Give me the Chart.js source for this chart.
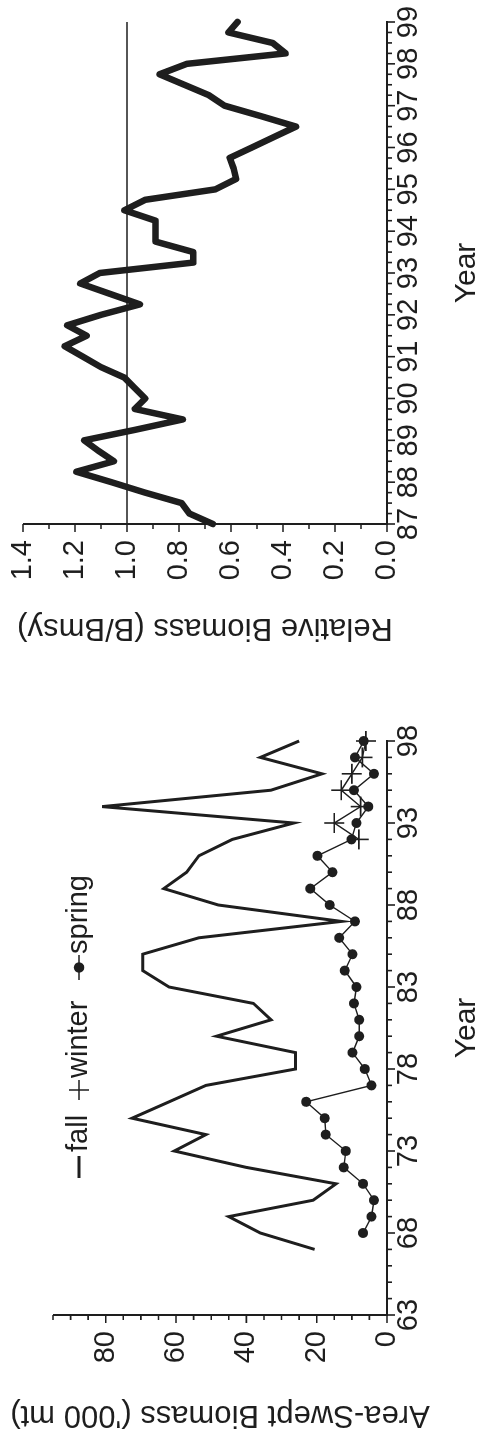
<!DOCTYPE html>
<html>
<head>
<meta charset="utf-8">
<script src="https://cdn.jsdelivr.net/npm/chart.js"></script>
<style>
  html, body { margin: 0; padding: 0; background: #fff; overflow: hidden; }
  /* the figure is a landscape page turned a quarter turn to the left */
  #page {
    position: absolute; left: 0; top: 0; width: 1442px; height: 487px;
    transform-origin: 0 0; transform: translate(0px, 1442px) rotate(-90deg);
  }
  #survey { position: absolute; left: 0; top: 0; }
  #relative { position: absolute; left: 740px; top: 0; }
</style>
</head>
<body>
<div id="page">
  <canvas id="survey" width="740" height="487"></canvas>
  <canvas id="relative" width="702" height="487"></canvas>
</div>
<script>
// Area-swept biomass ('000 mt) by survey season
const fallYears = [67, 68, 69, 70, 71, 72, 73, 74, 75, 76, 77, 78, 79, 80, 81, 82,
  83, 84, 85, 86, 87, 88, 89, 90, 91, 92, 93, 94, 95, 96, 97, 98];
const fallBiomass = [20.6, 36, 45, 21, 14.5, 40, 60.5, 51.5, 72.5, 62, 51.5, 26, 26, 48.5, 33, 38,
  62, 69.5, 69.5, 53.5, 13, 48, 63.5, 57, 53.5, 44, 26.5, 81, 33, 18.5, 36, 25];

const springYears = [68, 69, 70, 71, 72, 73, 74, 75, 76, 77, 78, 79, 80, 81, 82, 83,
  84, 85, 86, 87, 88, 89, 90, 91, 92, 93, 94, 95, 96, 97, 98];
const springBiomass = [6.8, 4.4, 3.7, 6.8, 12.3, 11.7, 17.4, 17.7, 23, 4.4, 6.3, 9.8, 7.9, 7.9, 9.4, 8.7,
  12, 9.8, 13.6, 9.1, 16.3, 21.8, 15.5, 19.8, 10.1, 8.7, 5.3, 9.4, 3.7, 9.1, 6.6];

const winterYears = [92, 93, 94, 95, 96, 97, 98];
const winterBiomass = [8, 15, 7.5, 13, 10, 7, 6];

// Relative biomass (B/Bmsy), quarterly
const quarterTimes = [87, 87.25, 87.5, 87.75, 88, 88.25, 88.5, 88.75, 89, 89.25, 89.5, 89.75,
  90, 90.25, 90.5, 90.75, 91, 91.25, 91.5, 91.75, 92, 92.25, 92.5, 92.75,
  93, 93.25, 93.5, 93.75, 94, 94.25, 94.5, 94.75, 95, 95.25, 95.5, 95.75,
  96, 96.25, 96.5, 96.75, 97, 97.25, 97.5, 97.75, 98, 98.25, 98.5, 98.75, 99];
const relBiomass = [0.67, 0.76, 0.79, 0.93, 1.06, 1.195, 1.05, 1.11, 1.165, 0.97, 0.785, 0.97,
  0.93, 0.97, 1.01, 1.10, 1.17, 1.24, 1.155, 1.23, 1.10, 0.95, 1.065, 1.18,
  1.105, 0.745, 0.745, 0.89, 0.89, 0.89, 1.01, 0.93, 0.66, 0.58, 0.59, 0.605,
  0.52, 0.435, 0.35, 0.485, 0.625, 0.685, 0.78, 0.875, 0.77, 0.39, 0.44, 0.61, 0.575];
const bmsyLevel = 1.0;

// tick labels
const surveyYearLabels = [63, 68, 73, 78, 83, 88, 93, 98];
const surveyBiomassLabels = [0, 20, 40, 60, 80];
const relYearLabels = [87, 88, 89, 90, 91, 92, 93, 94, 95, 96, 97, 98, 99];
const relBiomassLabels = ["0.0", "0.2", "0.4", "0.6", "0.8", "1.0", "1.2", "1.4"];

const INK = "#1e1e1e";
Chart.defaults.font.family = "'Liberation Sans', Arial, Helvetica, sans-serif";
Chart.defaults.color = INK;

function points(xs, ys) {
  return xs.map((x, i) => ({ x: x, y: ys[i] }));
}

function near(a, b) {
  return Math.abs(a - b) < 1e-6;
}

function fixWidth(w) {
  return function (scale) {
    scale.width = w;
    scale.paddingTop = 0;
    scale.paddingBottom = 0;
  };
}

function fixHeight(h) {
  return function (scale) {
    scale.height = h;
    scale.paddingLeft = 0;
    scale.paddingRight = 0;
  };
}

// axis lines and tick marks, long ones where a label sits
const axisLines = {
  id: "axisLines",
  afterDraw(chart) {
    const ctx = chart.ctx;
    const a = chart.chartArea;
    const xs = chart.scales.x;
    const ys = chart.scales.y;
    ctx.save();
    ctx.strokeStyle = INK;
    ctx.lineWidth = 2;
    ctx.beginPath();
    ctx.moveTo(a.left, a.top);
    ctx.lineTo(a.left, a.bottom);
    ctx.lineTo(a.right + 1, a.bottom);
    ctx.stroke();
    ctx.lineWidth = 1.6;
    ctx.beginPath();
    xs.ticks.forEach((t) => {
      const px = xs.getPixelForValue(t.value);
      const len = t.label !== "" ? 8 : 5;
      ctx.moveTo(px, a.bottom);
      ctx.lineTo(px, a.bottom + len);
    });
    ys.ticks.forEach((t) => {
      const py = ys.getPixelForValue(t.value);
      const len = t.label !== "" ? 8 : 5;
      ctx.moveTo(a.left, py);
      ctx.lineTo(a.left - len, py);
    });
    ctx.stroke();
    ctx.restore();
  },
};

// season key inside the survey panel
const seasonKey = {
  id: "seasonKey",
  afterDraw(chart) {
    const ctx = chart.ctx;
    const y = 79;
    ctx.save();
    ctx.strokeStyle = INK;
    ctx.fillStyle = INK;
    ctx.font = "29px 'Liberation Sans', Arial, sans-serif";
    ctx.textBaseline = "middle";

    ctx.lineWidth = 3;
    ctx.beginPath();
    ctx.moveTo(264, y);
    ctx.lineTo(286, y);
    ctx.stroke();
    ctx.fillText("fall", 290, y);

    ctx.lineWidth = 1.5;
    ctx.beginPath();
    ctx.moveTo(342, y);
    ctx.lineTo(362, y);
    ctx.moveTo(352, y - 10);
    ctx.lineTo(352, y + 10);
    ctx.stroke();
    ctx.fillText("winter", 364, y);

    ctx.beginPath();
    ctx.moveTo(462, y);
    ctx.lineTo(487, y);
    ctx.stroke();
    ctx.beginPath();
    ctx.arc(474.5, y, 5.2, 0, Math.PI * 2);
    ctx.fill();
    ctx.fillText("spring", 488, y);
    ctx.restore();
  },
};

function axisFont(size) {
  return { size: size, family: "'Liberation Sans', Arial, sans-serif" };
}

function survey_chart() {
  const ctx = document.querySelector("#survey").getContext("2d");

  new Chart(ctx, {
    type: "line",
    data: {
      datasets: [
        {
          label: "fall",
          data: points(fallYears, fallBiomass),
          borderColor: INK,
          borderWidth: 3,
          pointRadius: 0,
          borderJoinStyle: "miter",
          clip: false,
        },
        {
          label: "winter",
          data: points(winterYears, winterBiomass),
          borderColor: INK,
          borderWidth: 1.4,
          pointStyle: "cross",
          pointRadius: 10,
          pointBorderWidth: 1.6,
          pointBorderColor: INK,
          clip: false,
        },
        {
          label: "spring",
          data: points(springYears, springBiomass),
          borderColor: INK,
          borderWidth: 1.4,
          pointStyle: "circle",
          pointRadius: 5,
          pointBorderWidth: 0,
          pointBackgroundColor: INK,
          clip: false,
        },
      ],
    },
    options: {
      responsive: false,
      animation: false,
      devicePixelRatio: 1,
      layout: { padding: { left: 0, top: 53, right: 39, bottom: 0 } },
      plugins: { legend: { display: false }, tooltip: { enabled: false } },
      scales: {
        x: {
          type: "linear",
          min: 63,
          max: 98,
          grid: { display: false, drawTicks: false },
          border: { display: false },
          ticks: {
            stepSize: 1,
            autoSkip: false,
            maxRotation: 0,
            minRotation: 0,
            padding: 5,
            font: axisFont(29),
            callback: (v) => (surveyYearLabels.some((l) => near(l, v)) ? String(v) : ""),
          },
          title: { display: true, text: "Year", font: axisFont(30), padding: { top: 0, bottom: 2 } },
          afterFit: fixHeight(100),
        },
        y: {
          type: "linear",
          min: 0,
          max: 95,
          grid: { display: false, drawTicks: false },
          border: { display: false },
          ticks: {
            stepSize: 5,
            autoSkip: false,
            padding: 16,
            font: axisFont(29),
            callback: (v) => (surveyBiomassLabels.some((l) => near(l, v)) ? String(v) : ""),
          },
          title: {
            display: true,
            text: "Area-Swept Biomass ('000 mt)",
            font: axisFont(31),
            padding: { top: 9, bottom: 0 },
          },
          afterFit: fixWidth(127),
        },
      },
    },
    plugins: [axisLines, seasonKey],
  });
}

function relative_chart() {
  const ctx = document.querySelector("#relative").getContext("2d");

  new Chart(ctx, {
    type: "line",
    data: {
      datasets: [
        {
          label: "Bmsy",
          data: points([quarterTimes[0], quarterTimes[quarterTimes.length - 1]], [bmsyLevel, bmsyLevel]),
          borderColor: INK,
          borderWidth: 1.5,
          pointRadius: 0,
        },
        {
          label: "B/Bmsy",
          data: points(quarterTimes, relBiomass),
          borderColor: INK,
          borderWidth: 6.5,
          pointRadius: 0,
          borderJoinStyle: "round",
          borderCapStyle: "round",
          clip: false,
        },
      ],
    },
    options: {
      responsive: false,
      animation: false,
      devicePixelRatio: 1,
      layout: { padding: { left: 0, top: 23, right: 22, bottom: 0 } },
      plugins: { legend: { display: false }, tooltip: { enabled: false } },
      scales: {
        x: {
          type: "linear",
          min: 87,
          max: 99,
          grid: { display: false, drawTicks: false },
          border: { display: false },
          ticks: {
            stepSize: 0.25,
            autoSkip: false,
            maxRotation: 0,
            minRotation: 0,
            padding: 5,
            font: axisFont(29),
            callback: (v) => (relYearLabels.some((l) => near(l, v)) ? String(v) : ""),
          },
          title: { display: true, text: "Year", font: axisFont(30), padding: { top: 0, bottom: 2 } },
          afterFit: fixHeight(100),
        },
        y: {
          type: "linear",
          min: 0,
          max: 1.4,
          grid: { display: false, drawTicks: false },
          border: { display: false },
          ticks: {
            stepSize: 0.1,
            autoSkip: false,
            padding: 16,
            font: axisFont(29),
            callback: (v) => {
              const s = v.toFixed(1);
              return relBiomassLabels.includes(s) ? s : "";
            },
          },
          title: {
            display: true,
            text: "Relative Biomass (B/Bmsy)",
            font: axisFont(31),
            padding: { top: 56, bottom: 0 },
          },
          afterFit: fixWidth(178),
        },
      },
    },
    plugins: [axisLines],
  });
}

survey_chart();
relative_chart();
</script>
</body>
</html>
